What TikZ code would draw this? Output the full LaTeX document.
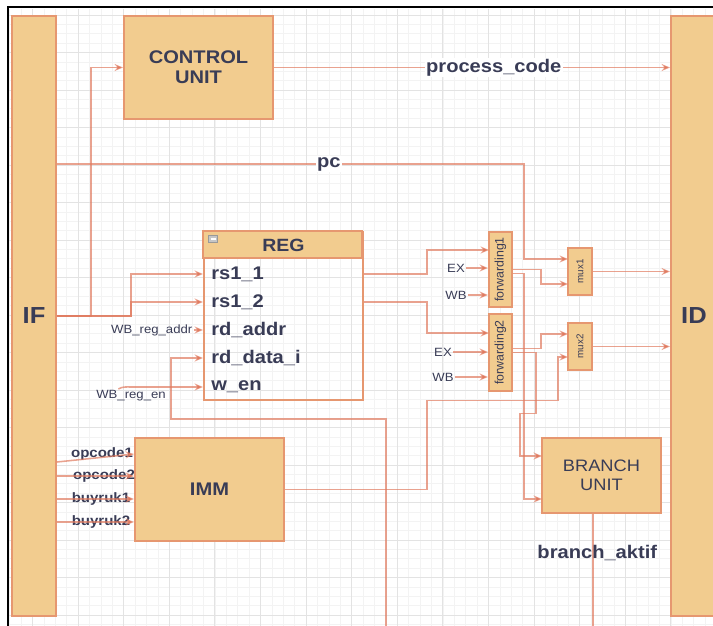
\documentclass[tikz,border=0pt]{standalone}
\usepackage{fontspec}
\setmainfont{Liberation Sans}[FakeStretch=1.1]
\newfontfamily\uprightlabel{Liberation Sans}
\usetikzlibrary{arrows.meta}

\definecolor{unitfill}{HTML}{F2CC8F}
\definecolor{unitline}{HTML}{E07A5F}
\definecolor{ink}{HTML}{393C56}
\definecolor{gridmajor}{HTML}{E3E3E3}
\definecolor{gridminor}{HTML}{F3F3F3}

\tikzset{
  unit/.style={draw=unitline!65!unitfill, line width=1.4pt, fill=unitfill, inner sep=0pt, text=ink},
  wire/.style={draw=unitline, draw opacity=0.7, line width=1.1pt, -{Stealth[length=6pt,width=5pt,inset=2pt]}},
  bigname/.style={font=\bfseries\fontsize{13}{14.5}\selectfont, align=center, text=ink},
  sig/.style={font=\bfseries\fontsize{13}{15}\selectfont, text=ink, inner sep=1pt},
  port/.style={font=\bfseries\fontsize{13}{15}\selectfont, text=ink, inner sep=0pt, anchor=west},
  sigsmall/.style={font=\bfseries\fontsize{9.7}{11}\selectfont, text=ink, inner sep=0pt},
  sigtiny/.style={font=\fontsize{8.5}{10}\selectfont, text=ink, inner sep=1pt},
}

\begin{document}
\begin{tikzpicture}[x=0.025cm, y=-0.025cm]
    \useasboundingbox (0,0) rectangle (713,626);
    \clip (0,0) rectangle (713,626);

    % --- GRID ---
    \foreach \i in {0,...,62}
        \draw[gridminor, line width=0.4pt] ({9.7+11.4*\i},9) -- ++(0,617);
    \foreach \i in {0,...,65}
        \draw[gridminor, line width=0.4pt] (9,{15+9.375*\i}) -- ++(704,0);
    \foreach \i in {0,...,14}
        \draw[gridmajor, line width=0.6pt] ({32.5+45.6*\i},9) -- ++(0,617);
    \foreach \i in {0,...,16}
        \draw[gridmajor, line width=0.6pt] (9,{15+37.5*\i}) -- ++(704,0);

    \draw[black, line width=1.4pt] (8,640) -- (8,7) -- (720,7);

    % --- STAGES AND UNITS ---
    \node[unit, bigname, font=\bfseries\fontsize{16.5}{18}\selectfont,
          minimum width=1.1cm, minimum height=15cm] (IF) at (34,316) {IF};
    \node[unit, bigname, font=\bfseries\fontsize{16.5}{18}\selectfont,
          minimum width=1.15cm, minimum height=15cm] (ID) at (694,316) {ID};
    \node[unit, bigname, minimum width=3.725cm, minimum height=2.575cm] (CU) at (198.5,67.5) {CONTROL\\UNIT};
    \node[unit, bigname, minimum width=3.725cm, minimum height=2.575cm] (IMM) at (209.5,489.5) {IMM};
    \node[unit, bigname, font=\fontsize{11.8}{13.2}\selectfont,
          minimum width=2.975cm, minimum height=1.875cm] (BU) at (601.5,475.5) {BRANCH\\UNIT};

    % --- REG ---
    \node[unit, fill=none, minimum width=3.975cm, minimum height=4.2cm] (REG) at (283.5,316) {};
    \draw[unit] (REG.north west) rectangle ++(159,27);
    \node[bigname, font=\bfseries\fontsize{12.6}{14}\selectfont] (regname) at (283.5,245.5) {REG};
    \draw[gray!80, fill=gray!45] (208.5,235.5) rectangle (217.5,242.5);
    \draw[white, line width=0.8pt] (210.5,239) -- (215.5,239);
    \foreach \n/\t/\y in {rs11/rs1\_1/274, rs12/rs1\_2/302, rdaddr/rd\_addr/330, rddata/rd\_data\_i/358, wen/w\_en/387}
        \node[port] (\n) at (211,\y) {\t};

    % --- FORWARDING AND MUX ---
    \node[unit, minimum width=0.575cm, minimum height=1.875cm] (fw1) at (500.5,269.5)
        {\rotatebox{90}{\uprightlabel\fontsize{8.8}{10}\selectfont forwarding1}};
    \node[unit, minimum width=0.575cm, minimum height=1.925cm] (fw2) at (500.5,352.5)
        {\rotatebox{90}{\uprightlabel\fontsize{8.8}{10}\selectfont forwarding2}};
    \node[unit, minimum width=0.6cm, minimum height=1.175cm] (mux1) at (580,271.5)
        {\rotatebox{90}{\uprightlabel\fontsize{7}{8}\selectfont mux1}};
    \node[unit, minimum width=0.6cm, minimum height=1.175cm] (mux2) at (580,346.5)
        {\rotatebox{90}{\uprightlabel\fontsize{7}{8}\selectfont mux2}};

    \coordinate (fw1a) at (489,250);
    \coordinate (fw2a) at (489,333);
    \coordinate (m1a) at (568,259);
    \coordinate (m1b) at (568,284);
    \coordinate (m2a) at (568,334);
    \coordinate (m2b) at (568,357);
    \coordinate (bu1) at (542,456);
    \coordinate (bu2) at (542,499);
    \coordinate (pcrow) at (0,164);
    \coordinate (wbin) at (386,640);

    % --- SIGNAL NAMES ---
    \node[sigtiny] (ex1) at (456,268) {EX};
    \node[sigtiny] (wb1) at (456,295) {WB};
    \node[sigtiny] (ex2) at (443,352) {EX};
    \node[sigtiny] (wb2) at (443,377) {WB};
    \node[sigtiny, anchor=east] (wbaddr) at (194,330) {WB\_reg\_addr};
    \node[sigtiny] (wben) at (131,396) {WB\_reg\_en};
    \foreach \n/\t/\x/\y in {op1/opcode1/102/454, op2/opcode2/104/476, by1/buyruk1/101/499, by2/buyruk2/101/522}
        \node[sigsmall] (\n) at (\x,\y) {\t};

    % --- WIRES ---
    \draw[wire] (IF.east) -- ++(34,0) |- (CU.west);
    \draw[wire] (IF.east) -- ++(74,0) |- (REG.west |- rs11);
    \draw[wire] (IF.east) -- ++(74,0) |- (REG.west |- rs12);
    \draw[wire] (IF.east |- pcrow) -- node[sig, fill=white, pos=0.582] (pclbl) {pc} ++(467,0) |- (m1a);
    \draw[wire] (CU.east) -- node[sig, fill=white, pos=0.555] (pcode) {process\_code} (ID.west |- CU.east);

    \draw[wire] (wbaddr.east) -- (REG.west |- rdaddr);
    \draw[wire] (wbin) |- (171,419) |- (REG.west |- rddata);
    \draw[wire] ([xshift=-9pt]wben.north) to[out=30, in=180] (wben.north |- wen) -- (REG.west |- wen);

    \draw[wire] (REG.east |- rs11) -- ++(63,0) |- (fw1a);
    \draw[wire] (REG.east |- rs12) -- ++(63,0) |- (fw2a);
    \draw[wire] (ex1.east) -- (fw1.west |- ex1);
    \draw[wire] (wb1.east) -- (fw1.west |- wb1);
    \draw[wire] (ex2.east) -- (fw2.west |- ex2);
    \draw[wire] (wb2.east) -- (fw2.west |- wb2);

    \draw[wire] (fw1.east) -- ++(28,0) |- (m1b);
    \draw[wire] ([yshift=-3pt]fw1.east) -- ++(11,0) |- (bu2);
    \draw[wire] ([yshift=3pt]fw2.east) -- ++(28,0) |- (m2a);
    \draw[wire] (fw2.east) -- ++(23,0) -- ++(0,61) -- ++(-16,0) |- (bu1);
    \draw[wire] (IMM.east) -- ++(142,0) -- ++(0,-89) -- ++(131,0) |- (m2b);

    \draw[wire] (mux1.east) -- (ID.west |- mux1.east);
    \draw[wire] (mux2.east) -- (ID.west |- mux2.east);

    \draw[wire] (IF.east |- 0,462) -- (IMM.west |- op1);
    \draw[wire] (IF.east |- op2) -- (IMM.west |- op2);
    \draw[wire] (IF.east |- by1) -- (IMM.west |- by1);
    \draw[wire] (IF.east |- by2) -- (IMM.west |- by2);

    \draw[wire, -] ([xshift=-6pt]BU.south) -- node[sig, pos=0.3, xshift=3pt] (baktif) {branch\_aktif} ++(0,130);
\end{tikzpicture}
\end{document}
